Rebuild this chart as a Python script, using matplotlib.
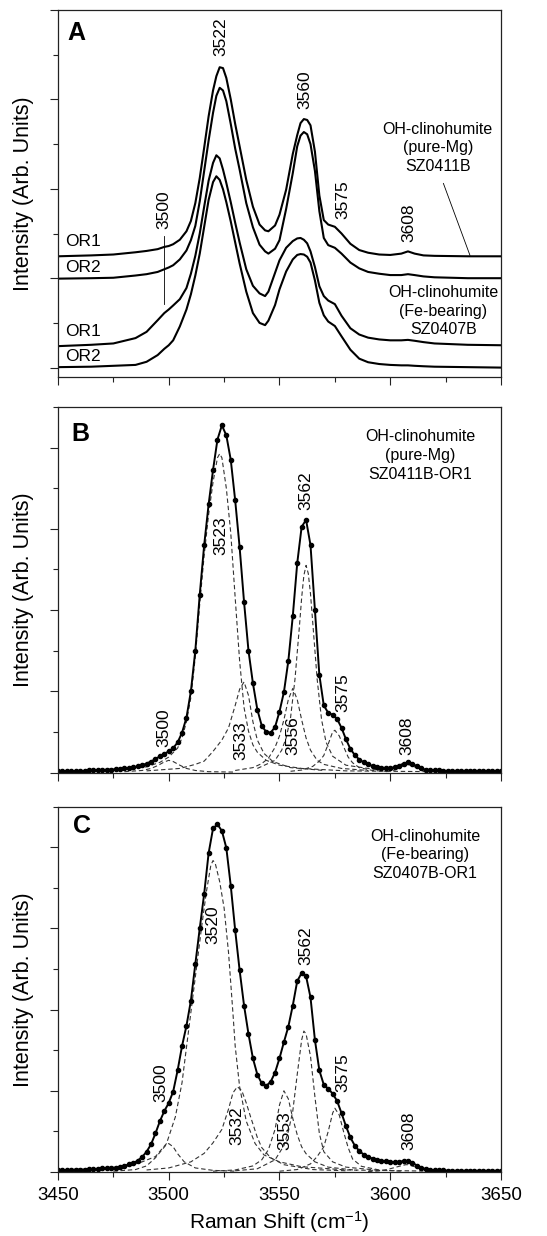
import numpy as np
import matplotlib.pyplot as plt

plt.rcParams['font.family'] = ['Liberation Sans', 'DejaVu Sans']
plt.rcParams['mathtext.default'] = 'regular'

# ---------------- panel A : stacked raw spectra
wn_a = [3450, 3465, 3475, 3485, 3490, 3495, 3498, 3500, 3502, 3505, 3508, 3510,
        3512, 3514, 3516, 3518, 3520, 3521.5, 3523, 3524.5, 3526, 3528, 3530, 3532,
        3535, 3538, 3541, 3543.5, 3545, 3548, 3550, 3553, 3556, 3558, 3559.5, 3561,
        3562.5, 3564, 3566, 3568, 3570, 3572, 3575, 3578, 3582, 3586, 3590, 3595,
        3600, 3605, 3608, 3611, 3615, 3620, 3635, 3650]
a_or1_mg = [2.49, 2.51, 2.53, 2.58, 2.61, 2.65, 2.7, 2.72, 2.76, 2.86, 3.05, 3.28,
            3.68, 4.24, 4.92, 5.62, 6.2, 6.52, 6.72, 6.7, 6.48, 6.0, 5.45, 4.95,
            4.2, 3.6, 3.2, 3.07, 3.05, 3.18, 3.42, 3.98, 4.78, 5.2, 5.47, 5.56,
            5.54, 5.42, 4.83, 3.85, 3.3, 3.2, 3.15, 3.0, 2.77, 2.63, 2.57, 2.53,
            2.52, 2.55, 2.6, 2.55, 2.51, 2.5, 2.49, 2.49]
a_or2_mg = [1.99, 2.0, 2.01, 2.06, 2.09, 2.14, 2.2, 2.24, 2.29, 2.42, 2.62, 2.85,
            3.17, 3.72, 4.4, 5.08, 5.7, 6.08, 6.26, 6.2, 5.96, 5.45, 4.9, 4.43,
            3.68, 3.14, 2.75, 2.6, 2.55, 2.66, 2.85, 3.55, 4.35, 4.95, 5.19, 5.27,
            5.22, 5.0, 4.4, 3.5, 2.9, 2.74, 2.68, 2.55, 2.35, 2.22, 2.14, 2.1,
            2.07, 2.07, 2.09, 2.07, 2.04, 2.02, 2.0, 2.0]
a_or1_fe = [0.48, 0.51, 0.54, 0.66, 0.8, 1.06, 1.22, 1.3, 1.39, 1.53, 1.78, 2.1,
            2.5, 3.0, 3.6, 4.18, 4.58, 4.75, 4.68, 4.43, 4.13, 3.7, 3.24, 2.8,
            2.2, 1.83, 1.66, 1.6, 1.7, 2.12, 2.4, 2.68, 2.83, 2.89, 2.9, 2.86,
            2.78, 2.6, 2.25, 1.82, 1.6, 1.5, 1.42, 1.16, 0.88, 0.74, 0.67, 0.63,
            0.61, 0.61, 0.62, 0.6, 0.57, 0.54, 0.51, 0.5]
a_or2_fe = [0.01, 0.02, 0.04, 0.06, 0.13, 0.28, 0.42, 0.5, 0.61, 0.92, 1.3, 1.64,
            2.06, 2.55, 3.15, 3.75, 4.15, 4.28, 4.2, 3.99, 3.7, 3.27, 2.8, 2.33,
            1.7, 1.22, 1.0, 0.95, 1.05, 1.4, 1.75, 2.15, 2.42, 2.52, 2.54, 2.53,
            2.48, 2.35, 1.95, 1.45, 1.17, 1.03, 0.93, 0.7, 0.4, 0.2, 0.12, 0.08,
            0.06, 0.05, 0.05, 0.04, 0.03, 0.02, 0.01, 0.0]
a_names = ['OR1', 'OR2', 'OR1', 'OR2']
a_peaks = ['3522', '3560', '3575', '3608', '3500']

# ---------------- panels B and C : measured spectra, 2 cm-1 steps
wn_bc = np.arange(3450, 3651, 2)
b_meas = [0.03, 0.03, 0.03, 0.03, 0.04, 0.04, 0.04, 0.05, 0.05, 0.06,
          0.06, 0.07, 0.07, 0.08, 0.09, 0.1, 0.11, 0.13, 0.15, 0.18,
          0.22, 0.27, 0.33, 0.4, 0.46, 0.52, 0.6, 0.74, 0.98, 1.35,
          2.0, 3.0, 4.38, 5.6, 6.6, 7.45, 8.2, 8.55, 8.3, 7.7,
          6.7, 5.55, 4.2, 3.0, 2.2, 1.55, 1.15, 1.0, 0.98, 1.12,
          1.5, 1.98, 2.75, 3.85, 5.15, 6.05, 6.22, 5.6, 4.0, 2.4,
          1.65, 1.47, 1.42, 1.32, 1.1, 0.82, 0.58, 0.43, 0.32, 0.25,
          0.2, 0.16, 0.13, 0.12, 0.11, 0.11, 0.13, 0.17, 0.22, 0.25,
          0.22, 0.15, 0.1, 0.07, 0.06, 0.05, 0.05, 0.04, 0.04, 0.04,
          0.04, 0.04, 0.04, 0.04, 0.04, 0.04, 0.04, 0.04, 0.04, 0.04, 0.04]
c_meas = [0.04, 0.04, 0.05, 0.05, 0.06, 0.06, 0.06, 0.07, 0.07, 0.08,
          0.09, 0.09, 0.1, 0.11, 0.13, 0.15, 0.19, 0.22, 0.28, 0.37,
          0.5, 0.68, 0.95, 1.25, 1.5, 1.7, 1.98, 2.5, 3.1, 3.6,
          4.22, 5.12, 6.0, 6.85, 7.85, 8.46, 8.56, 8.4, 7.98, 7.05,
          5.95, 4.97, 4.1, 3.4, 2.8, 2.4, 2.18, 2.12, 2.22, 2.45,
          2.8, 3.2, 3.58, 4.1, 4.7, 4.9, 4.82, 4.3, 3.25, 2.5,
          2.15, 2.05, 1.93, 1.75, 1.45, 1.13, 0.85, 0.65, 0.52, 0.43,
          0.37, 0.33, 0.3, 0.28, 0.26, 0.25, 0.24, 0.25, 0.27, 0.27,
          0.23, 0.16, 0.11, 0.07, 0.05, 0.04, 0.04, 0.04, 0.03, 0.03,
          0.03, 0.03, 0.03, 0.03, 0.03, 0.03, 0.03, 0.03, 0.03, 0.03, 0.03]

# ---------------- fitted bands (dashed), panel B
b3500_x = [3480, 3488, 3492, 3495, 3498, 3500, 3502, 3505, 3508, 3512, 3518, 3530]
b3500_y = [0.02, 0.05, 0.1, 0.17, 0.26, 0.3, 0.27, 0.18, 0.1, 0.05, 0.02, 0.01]
b3523_x = [3460, 3480, 3490, 3496, 3500, 3504, 3506, 3508, 3510, 3512, 3514, 3516,
           3518, 3520, 3522, 3523, 3524, 3526, 3528, 3530, 3532, 3534, 3536, 3538,
           3540, 3544, 3550, 3560, 3580, 3620]
b3523_y = [0.03, 0.07, 0.14, 0.25, 0.38, 0.6, 0.85, 1.25, 1.85, 2.85, 4.15, 5.35,
           6.35, 7.15, 7.75, 7.85, 7.75, 7.0, 5.9, 4.3, 2.75, 1.6, 1.02, 0.68,
           0.5, 0.3, 0.18, 0.1, 0.04, 0.02]
b3533_x = [3490, 3505, 3512, 3516, 3520, 3524, 3527, 3530, 3532, 3534, 3536, 3538,
           3540, 3543, 3547, 3555, 3570]
b3533_y = [0.04, 0.1, 0.2, 0.28, 0.52, 0.8, 1.1, 1.65, 2.05, 2.23, 1.9, 1.25,
           0.8, 0.47, 0.27, 0.12, 0.05]
b3556_x = [3530, 3538, 3542, 3545, 3548, 3550, 3552, 3554, 3556, 3558, 3560, 3562,
           3564, 3567, 3570, 3578, 3590]
b3556_y = [0.05, 0.12, 0.22, 0.35, 0.62, 0.9, 1.3, 1.8, 2.07, 1.8, 1.3, 0.85,
           0.55, 0.3, 0.2, 0.1, 0.05]
b3562_x = [3540, 3548, 3551, 3553, 3555, 3557, 3559, 3560, 3561, 3562, 3563, 3564,
           3565, 3567, 3569, 3571, 3574, 3580, 3595]
b3562_y = [0.1, 0.3, 0.55, 0.85, 1.35, 2.3, 3.6, 4.3, 4.85, 5.1, 4.9, 4.4,
           3.7, 2.3, 1.3, 0.75, 0.4, 0.18, 0.06]
b3575_x = [3555, 3560, 3565, 3568, 3570, 3572, 3574, 3575, 3577, 3579, 3581, 3583,
           3586, 3592, 3600]
b3575_y = [0.03, 0.06, 0.15, 0.28, 0.42, 0.7, 1.0, 1.04, 0.9, 0.63, 0.38, 0.24,
           0.12, 0.05, 0.02]
b3608_x = [3598, 3602, 3605, 3608, 3611, 3614, 3618]
b3608_y = [0.02, 0.06, 0.14, 0.2, 0.14, 0.06, 0.02]
b_peaks = ['3500', '3523', '3533', '3556', '3562', '3575', '3608']

# ---------------- fitted bands (dashed), panel C
c3500_x = [3475, 3485, 3490, 3494, 3497, 3499, 3500, 3502, 3504, 3507, 3512, 3520, 3530]
c3500_y = [0.02, 0.06, 0.15, 0.35, 0.55, 0.68, 0.7, 0.62, 0.45, 0.25, 0.1, 0.04, 0.02]
c3520_x = [3455, 3470, 3480, 3488, 3494, 3499, 3503, 3506, 3509, 3512, 3515, 3517,
           3519, 3520, 3521, 3523, 3525, 3527, 3529, 3530, 3532, 3535, 3539, 3543,
           3550, 3560, 3580, 3620]
c3520_y = [0.03, 0.06, 0.12, 0.25, 0.38, 0.7, 1.36, 2.2, 3.5, 4.8, 6.1, 6.9,
           7.55, 7.67, 7.6, 7.15, 6.5, 5.4, 3.9, 3.1, 2.1, 1.25, 0.7, 0.42,
           0.25, 0.13, 0.05, 0.02]
c3532_x = [3490, 3500, 3510, 3516, 3520, 3524, 3527, 3529, 3531, 3533, 3535, 3537,
           3540, 3542, 3546, 3552, 3565, 3580]
c3532_y = [0.05, 0.1, 0.25, 0.46, 0.72, 1.05, 1.55, 1.95, 2.1, 2.0, 1.7, 1.35,
           0.85, 0.6, 0.35, 0.18, 0.06, 0.03]
c3553_x = [3520, 3530, 3538, 3542, 3545, 3548, 3550, 3552, 3554, 3556, 3558, 3560,
           3562, 3566, 3572, 3585]
c3553_y = [0.02, 0.05, 0.15, 0.3, 0.55, 1.05, 1.65, 2.0, 1.8, 1.32, 0.92, 0.62,
           0.45, 0.25, 0.12, 0.04]
c3562_x = [3530, 3540, 3548, 3552, 3554, 3556, 3558, 3560, 3561, 3562, 3564, 3566,
           3568, 3570, 3574, 3580, 3595]
c3562_y = [0.03, 0.08, 0.3, 0.65, 1.0, 1.5, 2.4, 3.25, 3.47, 3.4, 2.85, 1.85,
           0.95, 0.5, 0.25, 0.12, 0.04]
c3575_x = [3550, 3558, 3564, 3567, 3570, 3572, 3574, 3575, 3577, 3579, 3581, 3583,
           3587, 3595, 3605]
c3575_y = [0.02, 0.06, 0.2, 0.38, 0.62, 1.0, 1.45, 1.57, 1.4, 0.98, 0.6, 0.32,
           0.14, 0.05, 0.02]
c3608_x = [3590, 3596, 3600, 3604, 3607, 3608, 3611, 3615, 3620, 3630]
c3608_y = [0.01, 0.03, 0.08, 0.14, 0.18, 0.18, 0.13, 0.06, 0.02, 0.01]
c_peaks = ['3500', '3520', '3532', '3553', '3562', '3575', '3608']

sample_a1 = 'OH-clinohumite\n(pure-Mg)\nSZ0411B'
sample_a2 = 'OH-clinohumite\n(Fe-bearing)\nSZ0407B'
sample_b = 'OH-clinohumite\n(pure-Mg)\nSZ0411B-OR1'
sample_c = 'OH-clinohumite\n(Fe-bearing)\nSZ0407B-OR1'

# ---------------------------------------------------------------- drawing
fig = plt.figure(figsize=(5.47, 12.36), dpi=100)
axA = fig.add_axes([0.1060, 0.6950, 0.8099, 0.2969])
axB = fig.add_axes([0.1060, 0.3750, 0.8099, 0.2957])
axC = fig.add_axes([0.1060, 0.05178, 0.8099, 0.2957])


def style(ax, ylim, yminor, xlabels):
    ax.set_xlim(3450, 3650)
    ax.set_ylim(*ylim)
    ax.set_xticks([3450, 3500, 3550, 3600, 3650])
    ax.set_xticks([3475, 3525, 3575, 3625], minor=True)
    ax.set_yticks([0, 2, 4, 6, 8])
    ax.set_yticks(yminor, minor=True)
    ax.tick_params(which='major', direction='out', length=5.5, width=0.8,
                   labelsize=13.5, pad=5, color='#222222')
    ax.tick_params(which='minor', direction='out', length=3.5, width=0.8,
                   color='#222222')
    ax.tick_params(axis='y', labelleft=False)
    if not xlabels:
        ax.tick_params(axis='x', labelbottom=False)
    ax.set_ylabel('Intensity (Arb. Units)', fontsize=15.5)
    ax.yaxis.set_label_coords(-0.055, 0.5)
    for s in ax.spines.values():
        s.set_linewidth(0.9)
        s.set_color('#222222')


# --- A
for ys in [a_or1_mg, a_or2_mg, a_or1_fe, a_or2_fe]:
    axA.plot(wn_a, ys, color='black', lw=1.5)
for name, yy in zip(a_names, [2.81, 2.25, 0.8, 0.24]):
    axA.text(3453, yy, name, fontsize=12.5, va='center', ha='left')
for lab, px, py in zip(a_peaks, [3523.5, 3561.5, 3578.5, 3608.2, 3498],
                       [6.98, 5.78, 3.32, 2.8, 3.1]):
    axA.text(px, py, lab, rotation=90, fontsize=12.5, ha='center', va='bottom')
axA.plot([3498, 3498], [1.42, 2.95], color='black', lw=0.6)
axA.text(3621.5, 5.5, sample_a1, fontsize=11.5, ha='center', va='top',
         linespacing=1.3)
axA.plot([3624, 3636], [4.12, 2.51], color='black', lw=0.6)
axA.text(3624, 1.85, sample_a2, fontsize=11.5, ha='center', va='top',
         linespacing=1.3)
axA.text(3458.4, 7.48, 'A', fontsize=18, fontweight='bold', ha='center', va='center')
style(axA, (-0.21, 8), [1, 3, 5, 7], False)

# --- B
b_bands = [(b3500_x, b3500_y), (b3523_x, b3523_y), (b3533_x, b3533_y),
           (b3556_x, b3556_y), (b3562_x, b3562_y), (b3575_x, b3575_y),
           (b3608_x, b3608_y)]
for bx, by in b_bands:
    axB.plot(bx, by, color='#333333', lw=0.8, dashes=(4, 2.5))
axB.plot(wn_bc, b_meas, color='black', lw=1.4, marker='o', ms=3.0)
for lab, px, py in zip(b_peaks,
                       [3497.6, 3523.6, 3532.5, 3556, 3562, 3578.5, 3607.4],
                       [0.63, 5.35, 0.3, 0.43, 6.46, 1.49, 0.43]):
    axB.text(px, py, lab, rotation=90, fontsize=12.5, ha='center', va='bottom')
axB.text(3613.4, 8.45, sample_b, fontsize=11.5, ha='center', va='top',
         linespacing=1.3)
axB.text(3459.9, 8.34, 'B', fontsize=18, fontweight='bold', ha='center', va='center')
style(axB, (0, 9), [1, 3, 5, 7, 9], False)

# --- C
c_bands = [(c3500_x, c3500_y), (c3520_x, c3520_y), (c3532_x, c3532_y),
           (c3553_x, c3553_y), (c3562_x, c3562_y), (c3575_x, c3575_y),
           (c3608_x, c3608_y)]
for bx, by in c_bands:
    axC.plot(bx, by, color='#333333', lw=0.8, dashes=(4, 2.5))
axC.plot(wn_bc, c_meas, color='black', lw=1.4, marker='o', ms=3.0)
for lab, px, py in zip(c_peaks,
                       [3496.4, 3519.7, 3530.7, 3552.5, 3562, 3578.5, 3608.2],
                       [1.72, 5.62, 0.66, 0.53, 5.09, 1.97, 0.53]):
    axC.text(px, py, lab, rotation=90, fontsize=12.5, ha='center', va='bottom')
axC.text(3615.7, 8.45, sample_c, fontsize=11.5, ha='center', va='top',
         linespacing=1.3)
axC.text(3460.7, 8.53, 'C', fontsize=18, fontweight='bold', ha='center', va='center')
style(axC, (0, 9), [1, 3, 5, 7, 9], True)
axC.set_xlabel('Raman Shift (cm$^{-1}$)', fontsize=15)

fig.savefig('out.png', dpi=100)
